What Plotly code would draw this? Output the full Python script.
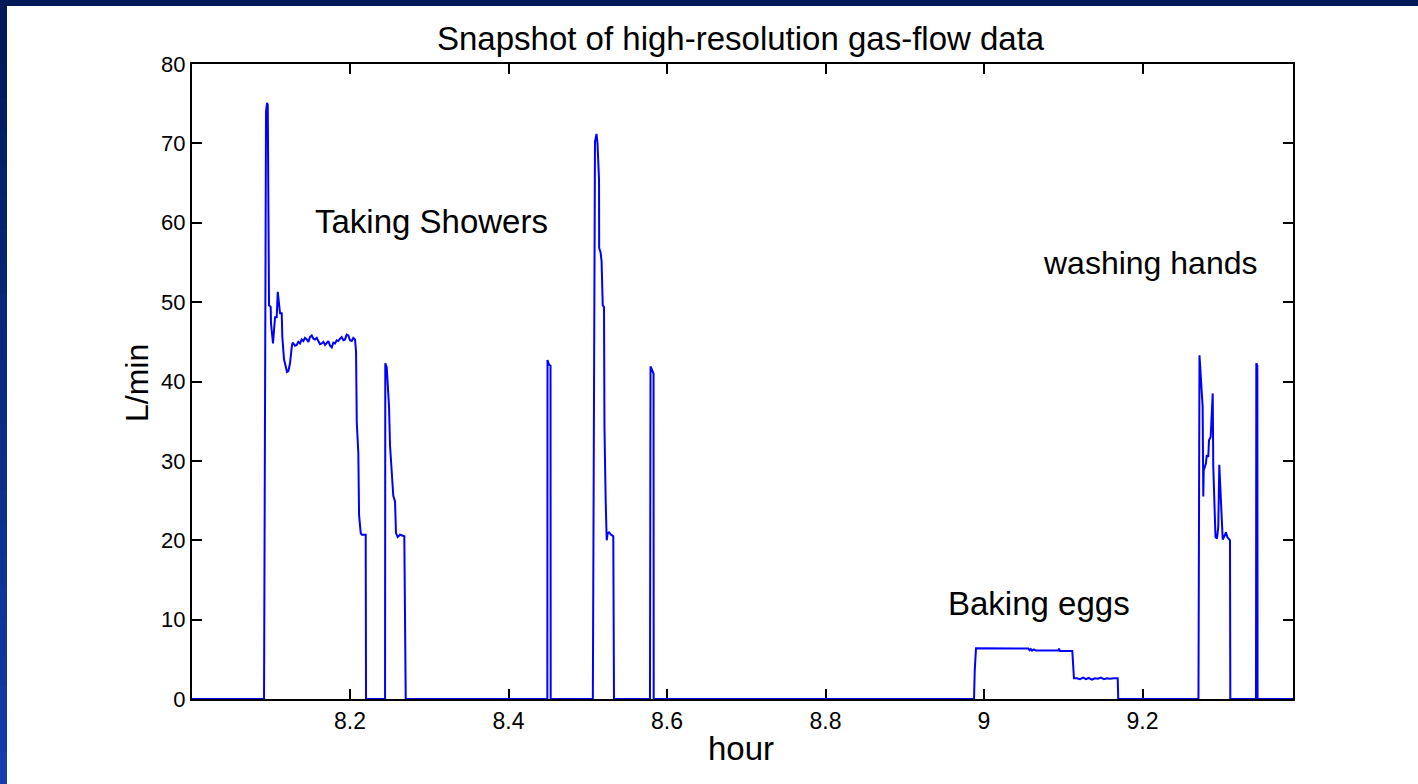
import plotly.graph_objects as go

# ---- data: gas flow (L/min) vs time of day (hours) ----
start_hours = [8.0000, 8.0915]
start_flow = [0, 0]

shower1_hours = [8.0940, 8.0953, 8.0962, 8.0978, 8.0999, 8.1003, 8.1028, 8.1041, 8.1054, 8.1075,
                 8.1088, 8.1104, 8.1117, 8.1138, 8.1146, 8.1167, 8.1189, 8.1205, 8.1222, 8.1243,
                 8.1264, 8.1275, 8.1285, 8.1307, 8.1328, 8.1348, 8.1369, 8.1390, 8.1411, 8.1432,
                 8.1454, 8.1475, 8.1495, 8.1517, 8.1538, 8.1558, 8.1580, 8.1600, 8.1621, 8.1643,
                 8.1664, 8.1685, 8.1705, 8.1726, 8.1748, 8.1769, 8.1790, 8.1811, 8.1832, 8.1852,
                 8.1873, 8.1895, 8.1916, 8.1937, 8.1958, 8.1979, 8.2000, 8.2022, 8.2042, 8.2063,
                 8.2076, 8.2085, 8.2105, 8.2114, 8.2135, 8.2148, 8.2198, 8.2202]
shower1_flow = [74.0, 75.1, 74.8, 49.6, 49.4, 47.3, 44.8, 46.3, 48.1, 48.1,
                51.3, 49.8, 48.6, 48.6, 45.6, 42.8, 41.6, 41.2, 41.3, 42.3,
                44.3, 44.9, 44.8, 44.5, 44.6, 45.0, 44.8, 45.3, 45.1, 45.5,
                45.3, 45.0, 45.6, 45.8, 45.4, 45.3, 45.5, 45.1, 44.7, 44.8,
                45.0, 44.6, 44.9, 45.1, 44.5, 44.3, 44.9, 44.8, 45.2, 45.1,
                45.4, 45.6, 45.2, 45.3, 45.9, 45.8, 45.2, 45.1, 45.5, 45.3,
                43.8, 34.9, 30.9, 23.2, 20.9, 20.7, 20.7, 0]

shower2_hours = [8.2442, 8.2445, 8.2463, 8.2476, 8.2492, 8.2505, 8.2526, 8.2546, 8.2568,
                 8.2580, 8.2602, 8.2631, 8.2685, 8.2703]
shower2_flow = [0, 42.3, 41.8, 39.8, 36.9, 31.9, 28.6, 25.6, 24.9,
                20.9, 20.4, 20.7, 20.5, 0]

spike1_hours = [8.4490, 8.4492, 8.4511, 8.4530, 8.4532]
spike1_flow = [0, 42.7, 42.1, 42.0, 0]

shower3_hours = [8.5064, 8.5091, 8.5110, 8.5123, 8.5142, 8.5144, 8.5161, 8.5174, 8.5189,
                 8.5205, 8.5211, 8.5226, 8.5239, 8.5252, 8.5268, 8.5293, 8.5322, 8.5331]
shower3_flow = [0, 70.2, 71.2, 70.0, 65.4, 56.8, 56.3, 55.2, 49.6,
                49.4, 34.0, 25.0, 20.0, 20.9, 21.0, 20.7, 20.5, 0]

spike2_hours = [8.5785, 8.5792, 8.5814, 8.5830, 8.5832]
spike2_flow = [0, 41.9, 41.3, 41.0, 0]

eggs_hours = [8.9874, 8.9883, 8.9899, 9.0559, 9.0575, 9.0590, 9.0606, 9.0630, 9.0656, 9.0706,
              9.0937, 9.0946, 9.0959, 9.1114, 9.1127, 9.1135, 9.1170, 9.1211, 9.1250, 9.1287,
              9.1320, 9.1363, 9.1400, 9.1438, 9.1475, 9.1514, 9.1550, 9.1590, 9.1640, 9.1687,
              9.1694]
eggs_flow = [0, 3.6, 6.4, 6.35, 6.15, 6.3, 6.1, 6.25, 6.1, 6.1,
             6.1, 6.35, 6.05, 6.05, 2.8, 2.6, 2.6, 2.5, 2.7, 2.5,
             2.65, 2.45, 2.6, 2.55, 2.7, 2.5, 2.6, 2.55, 2.6, 2.6,
             0]

hands_hours = [9.2706, 9.2719, 9.2759, 9.2767, 9.2772, 9.2801, 9.2810, 9.2830, 9.2839, 9.2860,
               9.2873, 9.2886, 9.2893, 9.2908, 9.2921, 9.2940, 9.2956, 9.2969, 9.2982, 9.2999,
               9.3012, 9.3028, 9.3053, 9.3070, 9.3095, 9.3104, 9.3108]
hands_flow = [0, 43.3, 36.8, 25.5, 28.8, 29.7, 30.7, 30.5, 32.6, 33.0,
              36.8, 38.5, 29.3, 22.9, 20.4, 20.2, 21.7, 29.5, 27.0, 22.6,
              20.1, 20.4, 21.0, 20.4, 20.1, 20.0, 0]

spike3_hours = [9.3432, 9.3436, 9.3449, 9.3452]
spike3_flow = [0, 42.3, 42.0, 0]

end_hours = [9.4000]
end_flow = [0]

x_tick_vals = [8.2, 8.4, 8.6, 8.8, 9.0, 9.2]
x_tick_text = ["8.2", "8.4", "8.6", "8.8", "9", "9.2"]
y_tick_vals = [0, 10, 20, 30, 40, 50, 60, 70, 80]

labels_text = ["Taking Showers", "washing hands", "Baking eggs"]
labels_x = [8.1533, 9.0720, 8.9520]
labels_y = [60.1, 54.9, 12.0]
labels_size = [33, 32, 33]

hours = (start_hours + shower1_hours + shower2_hours + spike1_hours + shower3_hours +
         spike2_hours + eggs_hours + hands_hours + spike3_hours + end_hours)
flow = (start_flow + shower1_flow + shower2_flow + spike1_flow + shower3_flow +
        spike2_flow + eggs_flow + hands_flow + spike3_flow + end_flow)

W, H = 1418, 784
L, R, T, B = 192, 125, 64, 85
pw, ph = W - L - R, H - T - B

def px2x(px):
    return (px - L) / pw

def py2y(py):
    return (H - B - py) / ph

FONT = "Liberation Sans, Arial, sans-serif"

fig = go.Figure()
fig.add_trace(go.Scatter(x=hours, y=flow, mode="lines",
                         line=dict(color="#0000ff", width=2), hoverinfo="skip",
                         showlegend=False))

shapes = []
# left gradient bar (segments overlap to avoid seams)
nseg = 24
for i in range(nseg):
    f = i / (nseg - 1)
    r = int(0 + 20 * f)
    g = int(26 + 34 * f)
    b = int(87 + 83 * f)
    y_top = H * i / nseg
    y_bot = min(H, H * (i + 1) / nseg + 2)
    shapes.append(dict(type="rect", xref="paper", yref="paper", x0=px2x(-1), x1=px2x(7),
                       y0=py2y(y_bot), y1=py2y(y_top),
                       fillcolor=f"rgb({r},{g},{b})", line=dict(width=0), layer="above"))
# top navy bar
shapes.append(dict(type="rect", xref="paper", yref="paper", x0=px2x(-1), x1=px2x(W + 1),
                   y0=py2y(6), y1=py2y(-1), fillcolor="#001a57", line=dict(width=0), layer="above"))

annotations = []
for t, x, y, s in zip(labels_text, labels_x, labels_y, labels_size):
    annotations.append(dict(text=t, x=x, y=y, xref="x", yref="y", xanchor="left",
                            yanchor="middle", showarrow=False,
                            font=dict(family=FONT, size=s, color="black")))
annotations.append(dict(text="Snapshot of high-resolution gas-flow data", x=px2x(741), y=py2y(38),
                        xref="paper", yref="paper", xanchor="center", yanchor="middle",
                        showarrow=False, font=dict(family=FONT, size=33, color="black")))
annotations.append(dict(text="hour", x=px2x(741), y=py2y(748), xref="paper", yref="paper",
                        xanchor="center", yanchor="middle", showarrow=False,
                        font=dict(family=FONT, size=33, color="black")))
annotations.append(dict(text="L/min", x=px2x(137), y=py2y(383), xref="paper", yref="paper",
                        xanchor="center", yanchor="middle", showarrow=False, textangle=-90,
                        font=dict(family=FONT, size=32, color="black")))

fig.update_layout(
    width=W, height=H,
    margin=dict(l=L, r=R, t=T, b=B, pad=0),
    paper_bgcolor="white", plot_bgcolor="white",
    shapes=shapes, annotations=annotations,
    xaxis=dict(range=[8.0006, 9.3899], tickmode="array", tickvals=x_tick_vals,
               ticktext=x_tick_text, ticks="inside", ticklen=10, tickwidth=1.5,
               tickcolor="black", showline=True, linecolor="black", linewidth=2,
               mirror="ticks", showgrid=False, zeroline=False, layer="below traces",
               tickfont=dict(family=FONT, size=23, color="black")),
    yaxis=dict(range=[0, 80], tickmode="array", tickvals=y_tick_vals,
               ticks="inside", ticklen=10, tickwidth=1.5, tickcolor="black",
               showline=True, linecolor="black", linewidth=2, mirror="ticks",
               showgrid=False, zeroline=False, layer="below traces",
               tickfont=dict(family=FONT, size=22, color="black")),
)

fig.write_html("out.html")
